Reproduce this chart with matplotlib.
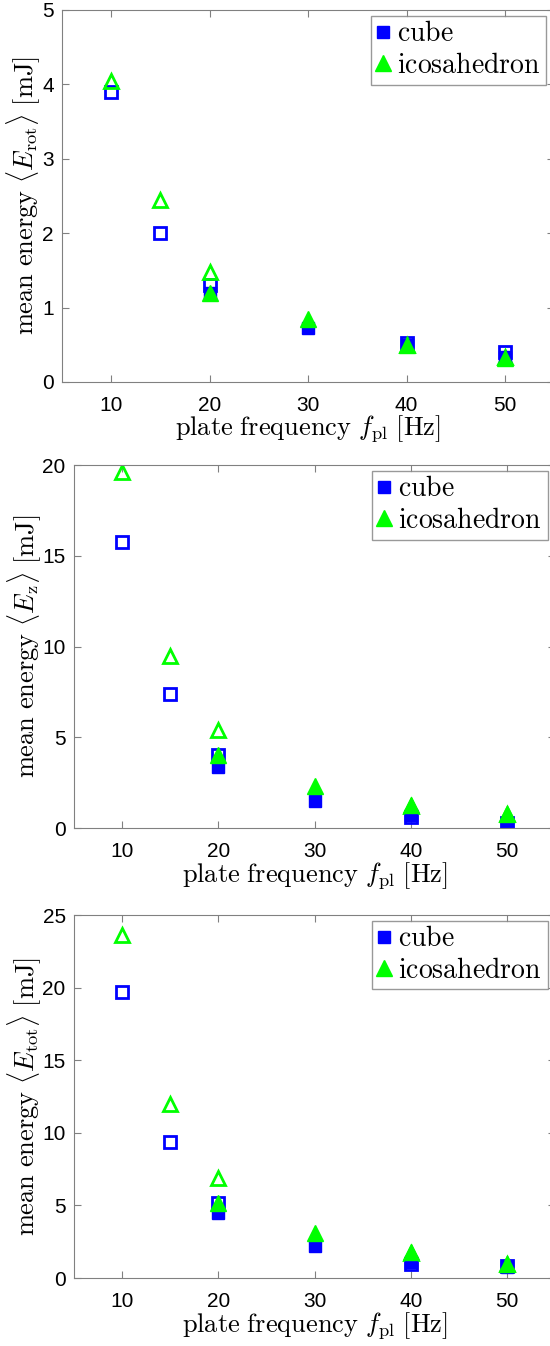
""" mean energies of cube and icosahedron vs plate frequency
"""
import matplotlib
matplotlib.use('Agg')
import matplotlib.pyplot as plt

plt.rcParams['mathtext.fontset'] = 'cm'
plt.rcParams['font.family'] = ['Liberation Sans', 'DejaVu Sans']

# open markers (first data set)
f_open = [10, 15, 20, 40, 50]
rot_cube_open = [3.9, 2.0, 1.30, 0.52, 0.40]
rot_ico_open = [4.04, 2.44, 1.48, 0.50, 0.33]
z_cube_open = [15.75, 7.4, 4.0, 0.6, 0.3]
z_ico_open = [19.6, 9.5, 5.4, 1.2, 0.75]
tot_cube_open = [19.7, 9.4, 5.2, 1.0, 0.8]
tot_ico_open = [23.6, 12.0, 6.9, 1.7, 1.0]

# filled markers (second data set)
f_fill = [20, 30, 40, 50]
rot_cube_fill = [1.2, 0.72, 0.50, 0.33]
rot_ico_fill = [1.19, 0.85, 0.50, 0.32]
z_cube_fill = [3.35, 1.5, 0.7, 0.3]
z_ico_fill = [4.0, 2.3, 1.26, 0.77]
tot_cube_fill = [4.5, 2.2, 1.1, 0.75]
tot_ico_fill = [5.2, 3.1, 1.8, 1.0]

panels = [
    (r'$\mathrm{mean\ energy}\ \langle E_{\rm rot}\rangle\ [\mathrm{mJ}]$',
     rot_cube_open, rot_ico_open, rot_cube_fill, rot_ico_fill, 5, [0, 1, 2, 3, 4, 5]),
    (r'$\mathrm{mean\ energy}\ \langle E_{\rm z}\rangle\ [\mathrm{mJ}]$',
     z_cube_open, z_ico_open, z_cube_fill, z_ico_fill, 20, [0, 5, 10, 15, 20]),
    (r'$\mathrm{mean\ energy}\ \langle E_{\rm tot}\rangle\ [\mathrm{mJ}]$',
     tot_cube_open, tot_ico_open, tot_cube_fill, tot_ico_fill, 25, [0, 5, 10, 15, 20, 25]),
]
positions = [
    [0.1127, 0.7162, 0.895, 0.2764],
    [0.1345, 0.3848, 0.875, 0.2697],
    [0.1345, 0.0505, 0.875, 0.2697],
]

blue = '#0000ff'
green = '#00ff00'
axcol = '#808080'

fig = plt.figure(figsize=(5.5, 13.46), dpi=100)
for (ylab, co, io, cf, icf, ymax, yt), pos in zip(panels, positions):
    ax = fig.add_axes(pos)
    ax.plot(f_open, co, 's', ms=8, mfc='none', mec=blue, mew=2)
    ax.plot(f_open, io, '^', ms=10, mfc='none', mec=green, mew=2)
    ax.plot(f_fill, cf, 's', ms=9, color=blue, label=r'$\mathrm{cube}$')
    ax.plot(f_fill, icf, '^', ms=11, color=green, label=r'$\mathrm{icosahedron}$')
    ax.set_xlim(5, 55)
    ax.set_ylim(0, ymax)
    ax.set_xticks([10, 20, 30, 40, 50])
    ax.set_yticks(yt)
    ax.tick_params(direction='in', top=True, right=True, length=5,
                   color=axcol, labelsize=15)
    ax.tick_params(axis='x', pad=10)
    ax.tick_params(axis='y', pad=6)
    for s in ax.spines.values():
        s.set_color(axcol)
    ax.set_xlabel(r'$\mathrm{plate\ frequency}\ f_{\rm pl}\ [\mathrm{Hz}]$',
                  fontsize=19, labelpad=-1)
    ax.set_ylabel(ylab, fontsize=19, labelpad=-1)
    leg = ax.legend(loc='upper right', bbox_to_anchor=(0.984, 0.984),
                    prop={'size': 20}, fancybox=False, handlelength=0.5,
                    handletextpad=0.25, borderpad=0.2, labelspacing=0.2,
                    borderaxespad=0)
    leg.get_frame().set_edgecolor(axcol)
    leg.get_frame().set_linewidth(1)

plt.savefig('out.png', dpi=100)
